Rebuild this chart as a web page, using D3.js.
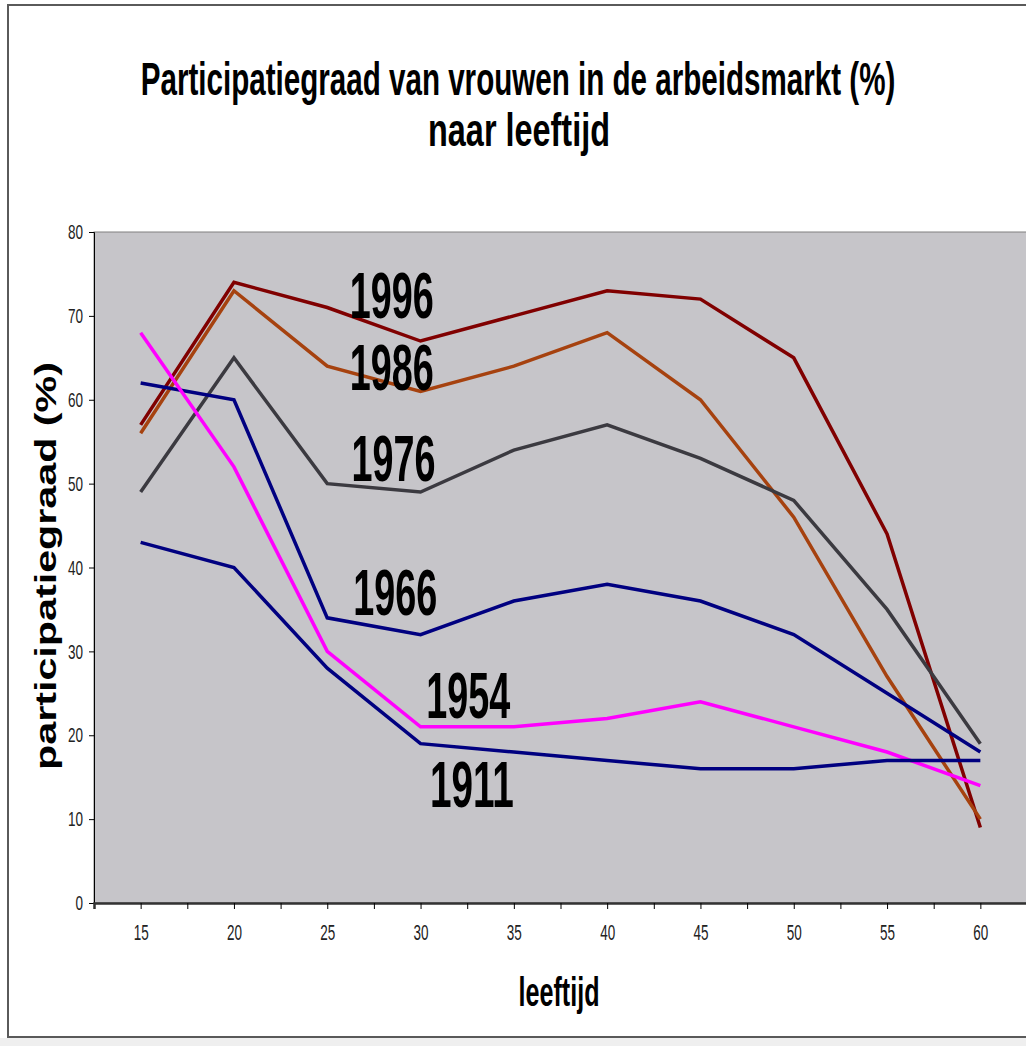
<!DOCTYPE html>
<html>
<head>
<meta charset="utf-8">
<script src="https://cdn.jsdelivr.net/npm/d3@7"></script>
<style>
  body { margin: 0; background: #ffffff; }
  svg { display: block; }
</style>
</head>
<body>
<script>
const width = 1026
const height = 1046

// data
const ages = [15, 20, 25, 30, 35, 40, 45, 50, 55, 60]
const years = ["1996", "1986", "1976", "1966", "1954", "1911"]
const v1996 = [57, 74, 71, 67, 70, 73, 72, 65, 44, 9]
const v1986 = [56, 73, 64, 61, 64, 68, 60, 46, 27, 10]
const v1976 = [49, 65, 50, 49, 54, 57, 53, 48, 35, 19]
const v1966 = [62, 60, 34, 32, 36, 38, 36, 32, 25, 18]
const v1954 = [68, 52, 30, 21, 21, 22, 24, 21, 18, 14]
const v1911 = [43, 40, 28, 19, 18, 17, 16, 16, 17, 17]
const yTicks = [0, 10, 20, 30, 40, 50, 60, 70, 80]

const seriesValues = [v1996, v1986, v1976, v1966, v1954, v1911]
const colors = ["#800000", "#a6420f", "#3b3a40", "#000080", "#ff00ff", "#000080"]
// where each year label sits (age, % of the baseline)
const labelAt = [[26.2, 69.8], [26.2, 61.2], [26.3, 50.3], [26.4, 34.3], [30.3, 22.1], [30.5, 11.5]]

const plot = { left: 94, right: 1027, top: 232, bottom: 903 }
const narrow = "'Liberation Sans Narrow', 'Arial Narrow', 'Liberation Sans', Arial, sans-serif"
const sans = "'Liberation Sans', Arial, sans-serif"

const x = d3.scaleLinear().domain([12.5, 62.5]).range([plot.left, plot.right])
const y = d3.scaleLinear().domain([0, 80]).range([plot.bottom, plot.top])

const svg = d3.select("body").append("svg").attr("width", width).attr("height", height)

// squeeze a text horizontally to a given width, keeping its anchor point
function fitWidth(sel, px, py, target) {
  sel.each(function () {
    const natural = this.getComputedTextLength()
    const s = natural > 0 ? target / natural : 1
    d3.select(this).attr("x", 0).attr("y", 0)
      .attr("transform", `translate(${px},${py}) scale(${s},1)`)
  })
}

// chart frame
svg.append("rect").attr("x", 0).attr("y", 1038).attr("width", width).attr("height", 8).attr("fill", "#efefef")
svg.append("rect")
  .attr("x", 8).attr("y", 5).attr("width", 1040).attr("height", 1032)
  .attr("fill", "#ffffff").attr("stroke", "#5a5a5a").attr("stroke-width", 2)

// plot area
svg.append("rect")
  .attr("x", plot.left).attr("y", plot.top)
  .attr("width", plot.right - plot.left).attr("height", plot.bottom - plot.top)
  .attr("fill", "#c6c5c9").attr("stroke", "#808080").attr("stroke-width", 1)

// title
const title = svg.append("g").attr("font-family", narrow).attr("font-weight", "bold").attr("fill", "#000")
title.append("text").attr("text-anchor", "middle").attr("font-size", 46)
  .text("Participatiegraad van vrouwen in de arbeidsmarkt (%)")
  .call(fitWidth, 518, 95, 755)
title.append("text").attr("text-anchor", "middle").attr("font-size", 46)
  .text("naar leeftijd")
  .call(fitWidth, 519, 146, 182)

// y axis
const yAxis = svg.append("g")
  .attr("transform", `translate(${plot.left},0)`)
  .call(d3.axisLeft(y).tickValues(yTicks).tickSize(5).tickPadding(6).tickFormat(d3.format("d")))
yAxis.select(".domain").attr("stroke", "#000")
yAxis.selectAll(".tick line").attr("stroke", "#000")
yAxis.selectAll(".tick text")
  .attr("font-family", narrow).attr("font-size", 21).attr("fill", "#222")
  .attr("textLength", (d) => String(d).length * 7.5).attr("lengthAdjust", "spacingAndGlyphs")

// x axis: ticks at categories and between them
const xAxis = svg.append("g")
  .attr("transform", `translate(0,${plot.bottom})`)
  .call(d3.axisBottom(x).tickValues(d3.range(15, 62.6, 2.5)).tickSize(6).tickPadding(15)
    .tickFormat((d) => (ages.includes(d) ? d : "")))
xAxis.select(".domain").attr("stroke", "#333").attr("stroke-width", 2.5)
xAxis.selectAll(".tick line").attr("stroke", "#000")
xAxis.selectAll(".tick text")
  .attr("font-family", narrow).attr("font-size", 22).attr("fill", "#222")
  .attr("textLength", (d) => (ages.includes(d) ? 15 : 0)).attr("lengthAdjust", "spacingAndGlyphs")

// axis titles
svg.append("text")
  .attr("transform", `translate(56,566) rotate(-90)`)
  .attr("text-anchor", "middle").attr("font-family", sans).attr("font-weight", "bold")
  .attr("font-size", 29).attr("textLength", 408).attr("lengthAdjust", "spacingAndGlyphs")
  .text("participatiegraad (%)")
svg.append("text")
  .attr("text-anchor", "middle")
  .attr("font-family", narrow).attr("font-weight", "bold").attr("font-size", 40)
  .text("leeftijd")
  .call(fitWidth, 559, 1006, 81)

// series lines
const line = d3.line().x((d, i) => x(ages[i])).y((d) => y(d))

svg.append("g")
  .selectAll("path")
  .data(seriesValues)
  .enter()
  .append("path")
  .attr("d", (d) => line(d))
  .attr("fill", "none")
  .attr("stroke", (d, i) => colors[i])
  .attr("stroke-width", 3.5)
  .attr("stroke-linejoin", "miter")

// year labels
svg.append("g")
  .selectAll("text")
  .data(years)
  .enter()
  .append("text")
  .attr("font-family", narrow).attr("font-weight", "bold").attr("font-size", 64)
  .attr("fill", "#000")
  .text((d) => d)
  .each(function (d, i) {
    d3.select(this).call(fitWidth, x(labelAt[i][0]), y(labelAt[i][1]), 84)
  })
</script>
</body>
</html>
